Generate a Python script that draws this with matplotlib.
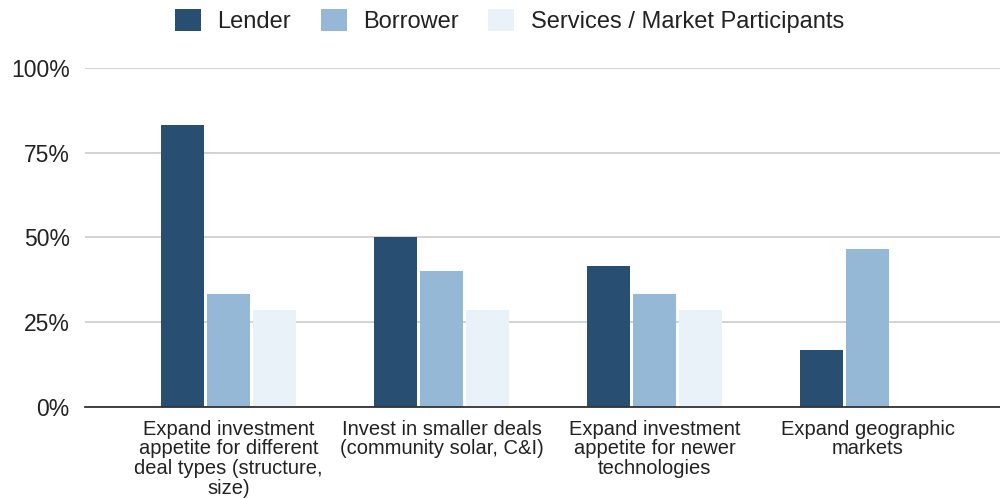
import numpy as np
import matplotlib.pyplot as plt
from matplotlib.ticker import FuncFormatter

plt.rcParams['font.family'] = ['Liberation Sans', 'DejaVu Sans']

categories = [
    "Expand investment\nappetite for different\ndeal types (structure,\nsize)",
    "Invest in smaller deals\n(community solar, C&I)",
    "Expand investment\nappetite for newer\ntechnologies",
    "Expand geographic\nmarkets",
]
series_names = ["Lender", "Borrower", "Services / Market Participants"]
lender = [83.3, 50.0, 41.7, 16.7]
borrower = [33.3, 40.0, 33.3, 46.7]
services = [28.6, 28.6, 28.6, 0.0]
colors = ["#284f71", "#95b8d6", "#e9f1f9"]

fig = plt.figure(figsize=(10, 4.98), dpi=100)
ax = fig.add_axes([0.085, 0.1827, 0.915, 0.6808])

x = np.arange(len(categories))
width = 0.202
step = 0.216
for i, (vals, name, c) in enumerate(zip([lender, borrower, services], series_names, colors)):
    ax.bar(x + (i - 1) * step, np.array(vals) / 100, width, color=c, label=name, zorder=3)

ax.set_xlim(-0.674, 3.622)
ax.set_ylim(0, 1)
ax.set_yticks([0, 0.25, 0.5, 0.75, 1.0])
ax.yaxis.set_major_formatter(FuncFormatter(lambda v, p: f"{v * 100:.0f}%"))
ax.grid(axis='y', color='#cccccc', linewidth=1.2, zorder=0)
ax.set_xticks(x)
ax.set_xticklabels(categories, fontsize=14.5, linespacing=1.06, color='#222222')
ax.tick_params(axis='y', labelsize=16.5, length=0, pad=11, colors='#222222')
ax.tick_params(axis='x', length=0, pad=9)
for s in ['top', 'right', 'left']:
    ax.spines[s].set_visible(False)
ax.spines['bottom'].set_color('#333333')
ax.spines['bottom'].set_linewidth(1.3)
ax.spines['bottom'].set_zorder(4)

fig.legend(loc='center', bbox_to_anchor=(0.5095, 1 - 21 / 498), ncol=3, frameon=False,
           fontsize=17, handlelength=1.1, handleheight=1.1, handletextpad=0.68,
           columnspacing=1.27, labelcolor='#222222')

fig.savefig("out.png", dpi=100)
